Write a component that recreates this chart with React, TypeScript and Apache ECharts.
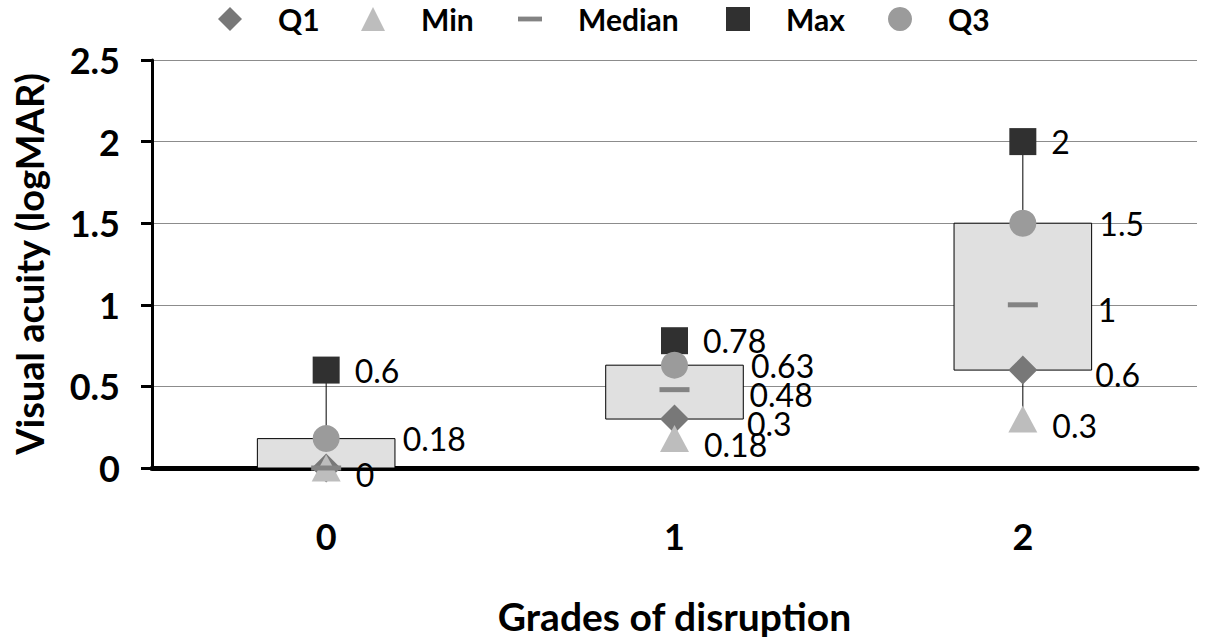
import React, { useEffect, useRef } from "react";
import * as echarts from "echarts";

const categories = ["0", "1", "2"];
const minValues = [0, 0.18, 0.3];
const q1Values = [0, 0.3, 0.6];
const medianValues = [0, 0.48, 1];
const q3Values = [0.18, 0.63, 1.5];
const maxValues = [0.6, 0.78, 2];
const yTicks = { min: 0, max: 2.5, interval: 0.5 };

const FONT = "Lato";

export default function App() {
  const ref = useRef<HTMLDivElement>(null);

  useEffect(() => {
    document.body.style.margin = "0";
    if (!ref.current) return;
    const chart = echarts.init(ref.current, null, { renderer: "svg" });

    const pts = (vals: number[]) => vals.map((v, i) => [i, v]);
    const labelBase = {
      show: true,
      position: "right",
      color: "#000",
      fontFamily: FONT,
      fontSize: 32,
      formatter: (p: any) => String(p.value[1]),
    };
    // hide a label if it repeats the Min value of the same category
    const dupFormatter = (p: any) =>
      p.value[1] === minValues[p.dataIndex] ? "" : String(p.value[1]);

    const legendCommon = {
      top: 4,
      padding: 0,
      itemWidth: 24,
      itemHeight: 24,
      selectedMode: false,
      textStyle: {
        fontFamily: FONT,
        fontWeight: "bold",
        fontSize: 30,
        lineHeight: 30,
        color: "#000",
        padding: [0, 0, 0, 31],
      },
    };

    const option: any = {
      animation: false,
      backgroundColor: "#fff",
      legend: [
        { ...legendCommon, left: 218, data: ["Q1"] },
        { ...legendCommon, left: 361, data: ["Min"] },
        { ...legendCommon, left: 518, data: ["Median"], icon: "path://M0,0H25V5H0Z" },
        { ...legendCommon, left: 726, data: ["Max"] },
        { ...legendCommon, left: 888, data: ["Q3"] },
      ],
      grid: { left: 152, right: 11, top: 60, bottom: 172, containLabel: false },
      xAxis: {
        type: "category",
        data: categories,
        name: "Grades of disruption",
        nameLocation: "middle",
        nameGap: 128,
        nameTextStyle: { fontFamily: FONT, fontWeight: "bold", fontSize: 39, color: "#000" },
        axisLine: { lineStyle: { color: "#000", width: 5 } },
        axisTick: { show: false },
        axisLabel: { fontFamily: FONT, fontWeight: "bold", fontSize: 36, color: "#000", margin: 50 },
        splitLine: { show: false },
      },
      yAxis: {
        type: "value",
        min: yTicks.min,
        max: yTicks.max,
        interval: yTicks.interval,
        name: "Visual acuity (logMAR)",
        nameLocation: "middle",
        nameGap: 104,
        nameTextStyle: { fontFamily: FONT, fontWeight: "bold", fontSize: 38, color: "#000" },
        axisLine: { show: true, lineStyle: { color: "#000", width: 3 } },
        axisTick: { show: true, length: 11, lineStyle: { color: "#000", width: 3 } },
        axisLabel: { fontFamily: FONT, fontWeight: "bold", fontSize: 36, color: "#000", margin: 32 },
        splitLine: { show: true, lineStyle: { color: "#8c8c8c", width: 1 } },
      },
      series: [
        {
          type: "custom",
          name: "box",
          silent: true,
          z: 1,
          data: categories.map((_, i) => [
            i,
            minValues[i],
            q1Values[i],
            medianValues[i],
            q3Values[i],
            maxValues[i],
          ]),
          encode: { x: 0, y: [1, 2, 3, 4, 5] },
          renderItem: (params: any, api: any) => {
            const x = api.value(0);
            const lo = api.coord([x, api.value(1)]);
            const q1 = api.coord([x, api.value(2)]);
            const q3 = api.coord([x, api.value(4)]);
            const hi = api.coord([x, api.value(5)]);
            const w = api.size([1, 0])[0] * 0.395;
            return {
              type: "group",
              children: [
                {
                  type: "line",
                  shape: { x1: hi[0], y1: hi[1], x2: q3[0], y2: q3[1] },
                  style: { stroke: "#000", lineWidth: 1 },
                },
                {
                  type: "line",
                  shape: { x1: q1[0], y1: q1[1], x2: lo[0], y2: lo[1] },
                  style: { stroke: "#000", lineWidth: 1 },
                },
                {
                  type: "rect",
                  shape: { x: q1[0] - w / 2, y: q3[1], width: w, height: q1[1] - q3[1] },
                  style: { fill: "#e0e0e0", stroke: "#000", lineWidth: 1 },
                },
              ],
            };
          },
        },
        {
          type: "scatter",
          name: "Q1",
          symbol: "diamond",
          symbolSize: [29, 29],
          itemStyle: { color: "#787878", opacity: 1 },
          data: pts(q1Values),
          label: { ...labelBase, distance: 58, offset: [0, 4], formatter: dupFormatter },
          z: 3,
        },
        {
          type: "scatter",
          name: "Min",
          symbol: "triangle",
          symbolSize: [29, 27],
          itemStyle: { color: "#bdbdbd", opacity: 1 },
          data: pts(minValues),
          label: { ...labelBase, distance: 15, offset: [0, 6] },
          z: 4,
        },
        {
          type: "scatter",
          name: "Median",
          symbol: "rect",
          symbolSize: [30, 5],
          itemStyle: { color: "#838383", opacity: 1 },
          data: pts(medianValues),
          label: { ...labelBase, distance: 60, offset: [0, 5], formatter: dupFormatter },
          z: 5,
        },
        {
          type: "scatter",
          name: "Max",
          symbol: "rect",
          symbolSize: [27, 27],
          itemStyle: { color: "#303030", opacity: 1 },
          data: pts(maxValues),
          label: { ...labelBase, distance: 15 },
          z: 6,
        },
        {
          type: "scatter",
          name: "Q3",
          symbol: "circle",
          symbolSize: [27, 27],
          itemStyle: { color: "#9b9b9b", opacity: 1 },
          data: pts(q3Values),
          label: { ...labelBase, distance: 63 },
          z: 7,
        },
      ],
    };

    chart.setOption(option);
    return () => chart.dispose();
  }, []);

  return <div ref={ref} style={{ width: 1208, height: 640 }} />;
}
